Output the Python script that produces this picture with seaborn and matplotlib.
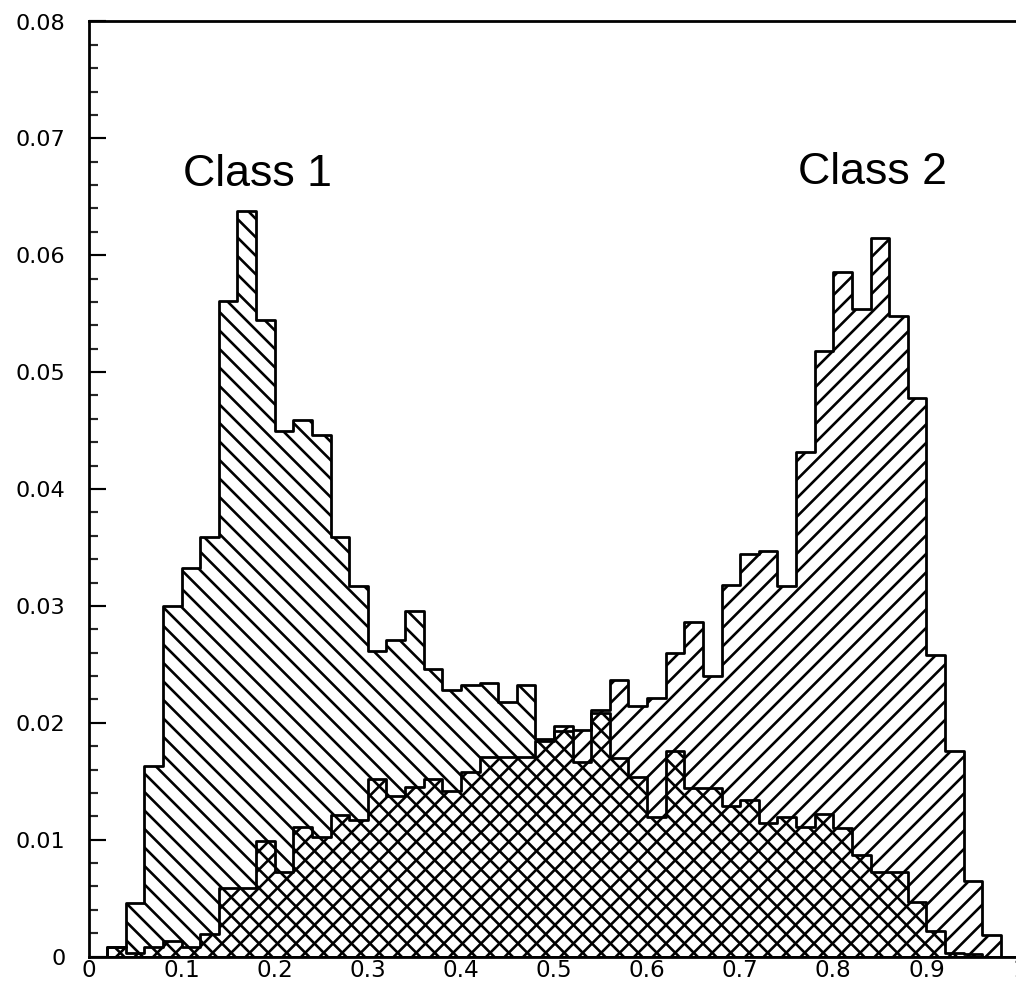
import numpy as np
import seaborn as sns
import matplotlib
matplotlib.use("Agg")
import matplotlib.pyplot as plt
from matplotlib.ticker import MultipleLocator, FixedLocator, FixedFormatter

# Histogram binning: 50 bins of width 0.02 on [0, 1]
bin_edges = [round(0.02 * i, 2) for i in range(51)]

# Normalised bin contents, one value per bin
class1 = [0.0000, 0.0008, 0.0046, 0.0163, 0.0300, 0.0332, 0.0359, 0.0561, 0.0638, 0.0545,
          0.0450, 0.0459, 0.0446, 0.0359, 0.0317, 0.0261, 0.0271, 0.0296, 0.0246, 0.0228,
          0.0232, 0.0234, 0.0218, 0.0232, 0.0186, 0.0193, 0.0166, 0.0208, 0.0170, 0.0154,
          0.0119, 0.0176, 0.0144, 0.0144, 0.0129, 0.0134, 0.0114, 0.0119, 0.0111, 0.0122,
          0.0110, 0.0087, 0.0072, 0.0072, 0.0047, 0.0022, 0.0003, 0.0002, 0.0000, 0.0000]
class2 = [0.0000, 0.0008, 0.0003, 0.0008, 0.0013, 0.0008, 0.0019, 0.0059, 0.0059, 0.0099,
          0.0072, 0.0111, 0.0102, 0.0121, 0.0117, 0.0152, 0.0137, 0.0145, 0.0152, 0.0142,
          0.0158, 0.0171, 0.0171, 0.0171, 0.0184, 0.0197, 0.0194, 0.0211, 0.0237, 0.0214,
          0.0221, 0.0260, 0.0286, 0.0240, 0.0318, 0.0344, 0.0347, 0.0317, 0.0432, 0.0518,
          0.0586, 0.0554, 0.0615, 0.0548, 0.0478, 0.0258, 0.0176, 0.0065, 0.0018, 0.0000]

x_ticks = [0.0, 0.1, 0.2, 0.3, 0.4, 0.5, 0.6, 0.7, 0.8, 0.9, 1.0]
x_tick_labels = ["0", "0.1", "0.2", "0.3", "0.4", "0.5", "0.6", "0.7", "0.8", "0.9", "1"]
y_ticks = [0.0, 0.01, 0.02, 0.03, 0.04, 0.05, 0.06, 0.07, 0.08]
y_tick_labels = ["0", "0.01", "0.02", "0.03", "0.04", "0.05", "0.06", "0.07", "0.08"]

class_names = ["Class 1", "Class 2"]
class_hatches = ["\\\\", "//"]
name_x = [0.102, 0.7625]
name_y = [0.0659, 0.0661]

sns.set_style("white")
plt.rcParams["font.family"] = ["DejaVu Sans"]
plt.rcParams["hatch.color"] = "black"
plt.rcParams["hatch.linewidth"] = 1.7

DPI = 111
W, H = 1016, 986
fig = plt.figure(figsize=(W / DPI, H / DPI), dpi=DPI)
fig.patch.set_facecolor("white")
ax = fig.add_axes([88.5 / W, 29.5 / H, 931 / W, 935 / H])

centers = [(a + b) / 2 for a, b in zip(bin_edges[:-1], bin_edges[1:])]
for values, hatch in zip([class1, class2], class_hatches):
    n_before = len(ax.collections)
    sns.histplot(x=centers, weights=values, bins=bin_edges, element="step",
                 fill=True, stat="count", ax=ax, color="black", linewidth=1.8)
    for coll in ax.collections[n_before:]:
        coll.set_facecolor("none")
        coll.set_edgecolor("black")
        coll.set_linewidth(1.8)
        coll.set_hatch(hatch)
        coll.set_alpha(1.0)

for name, tx, ty in zip(class_names, name_x, name_y):
    ax.text(tx, ty, name, ha="left", va="baseline", fontsize=29,
            family=["Liberation Sans", "DejaVu Sans"], color="black")

ax.set_xlim(0, 1)
ax.set_ylim(0, 0.08)
ax.set_xlabel("")
ax.set_ylabel("")

ax.xaxis.set_major_locator(FixedLocator(x_ticks))
ax.xaxis.set_major_formatter(FixedFormatter(x_tick_labels))
ax.yaxis.set_major_locator(FixedLocator(y_ticks))
ax.yaxis.set_major_formatter(FixedFormatter(y_tick_labels))
ax.yaxis.set_minor_locator(MultipleLocator(0.002))

ax.tick_params(axis="x", which="both", length=0, pad=1.5, labelsize=15, colors="black")
ax.tick_params(axis="y", which="major", direction="in", length=11, width=1.4,
               pad=15, labelsize=14.5, colors="black", left=True, right=False)
ax.tick_params(axis="y", which="minor", direction="in", length=5.8, width=1.4,
               left=True, right=False)

for side in ["left", "bottom", "top"]:
    ax.spines[side].set_visible(True)
    ax.spines[side].set_linewidth(1.8)
    ax.spines[side].set_color("black")
ax.spines["right"].set_visible(False)

fig.savefig("out.png", dpi=DPI, facecolor="white")
